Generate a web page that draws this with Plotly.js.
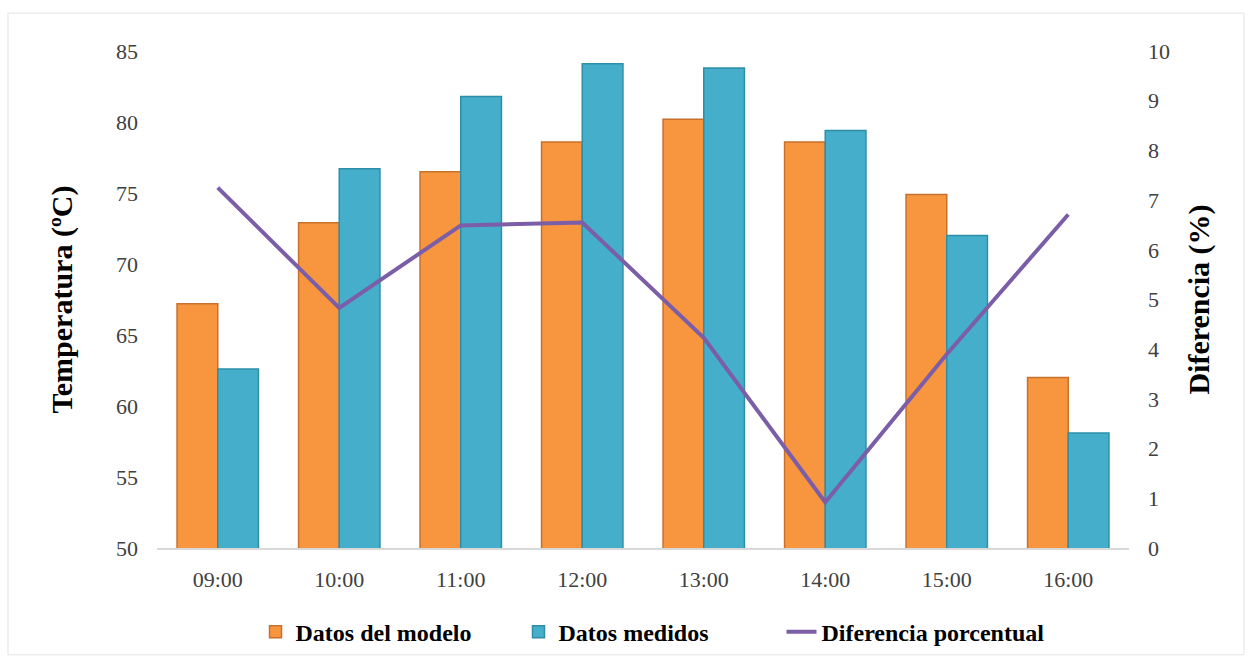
<!DOCTYPE html>
<html>
<head>
<meta charset="utf-8">
<script src="https://cdn.plot.ly/plotly-3.0.1.min.js"></script>
<style>
html,body{margin:0;padding:0;background:#ffffff;}
#chart{width:1252px;height:665px;}
</style>
</head>
<body>
<div id="chart"></div>
<script>
const categories = ["09:00","10:00","11:00","12:00","13:00","14:00","15:00","16:00"];
const modelData = [67.2, 72.9, 76.5, 78.6, 80.2, 78.6, 74.9, 62.0];
const measuredData = [62.6, 76.7, 81.8, 84.1, 83.8, 79.4, 72.0, 58.1];
const percentDiff = [7.25, 4.83, 6.49, 6.55, 4.23, 0.92, 3.9, 6.71];
const leftTicks = [50,55,60,65,70,75,80,85];
const rightTicks = [0,1,2,3,4,5,6,7,8,9,10];

const serif = "Liberation Serif";

const traces = [
  {
    type: "bar", name: "Datos del modelo", x: categories, y: modelData,
    marker: {color: "#F7963F", line: {color: "#C8712C", width: 1.5}},
    yaxis: "y", hoverinfo: "x+y"
  },
  {
    type: "bar", name: "Datos medidos", x: categories, y: measuredData,
    marker: {color: "#45AECB", line: {color: "#2E8EA8", width: 1.5}},
    yaxis: "y", hoverinfo: "x+y"
  },
  {
    type: "scatter", mode: "lines", name: "Diferencia porcentual", x: categories, y: percentDiff,
    line: {color: "#7B5EA7", width: 4},
    yaxis: "y2", hoverinfo: "x+y"
  }
];

const layout = {
  width: 1252, height: 665,
  paper_bgcolor: "#FFFFFF",
  plot_bgcolor: "rgba(0,0,0,0)",
  margin: {l: 157, r: 123, t: 51, b: 116, pad: 0},
  font: {family: serif, color: "#404040", size: 22},
  barmode: "group",
  bargap: 0.33,
  bargroupgap: 0,
  showlegend: true,
  legend: {
    orientation: "h", x: 0.5072, xanchor: "center", y: -0.167, yanchor: "middle",
    font: {family: serif, size: 24, color: "#000000", weight: "bold"},
    entrywidth: 218, entrywidthmode: "pixels",
    bgcolor: "rgba(0,0,0,0)"
  },
  xaxis: {
    type: "category",
    showline: true, linecolor: "#D9D9D9", linewidth: 2,
    showgrid: false, zeroline: false, ticks: "",
    tickfont: {family: serif, size: 22, color: "#404040"},
    ticklabelstandoff: 11
  },
  yaxis: {
    range: [50, 85], tickvals: leftTicks, ticktext: leftTicks.map(String),
    showgrid: false, zeroline: false, showline: false, ticks: "",
    tickfont: {family: serif, size: 22, color: "#404040"},
    ticklabelstandoff: 18,
    title: {text: "Temperatura (ºC)", font: {family: serif, size: 30, color: "#000000", weight: "bold"}, standoff: 34}
  },
  yaxis2: {
    range: [0, 10], tickvals: rightTicks, ticktext: rightTicks.map(String),
    overlaying: "y", side: "right",
    showgrid: false, zeroline: false, showline: false, ticks: "",
    tickfont: {family: serif, size: 22, color: "#404040"},
    ticklabelstandoff: 18,
    title: {text: "Diferencia (%)", font: {family: serif, size: 30, color: "#000000", weight: "bold"}, standoff: 18}
  },
  shapes: [
    {type: "rect", xref: "paper", yref: "paper", x0: -0.1533, x1: 1.1183, y0: -0.2149, y1: 1.0763,
     line: {color: "#E3E3E3", width: 1}, fillcolor: "rgba(0,0,0,0)", layer: "below"}
  ]
};

Plotly.newPlot("chart", traces, layout, {displayModeBar: false, responsive: false});
</script>
</body>
</html>
